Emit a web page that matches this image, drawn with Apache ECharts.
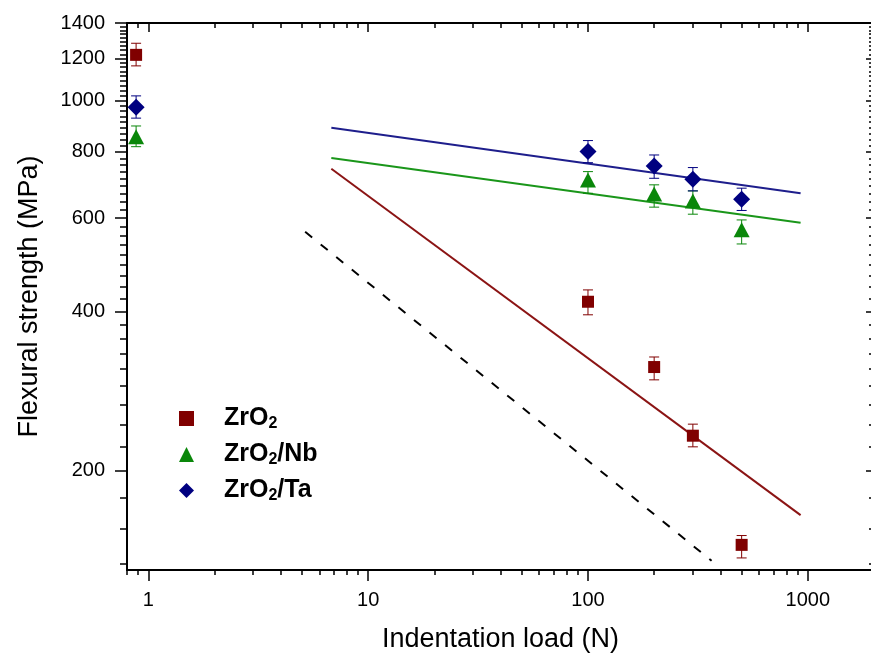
<!DOCTYPE html>
<html>
<head>
<meta charset="utf-8">
<script src="https://cdn.jsdelivr.net/npm/echarts@6/dist/echarts.min.js"></script>
<style>
html,body{margin:0;padding:0;background:#fff;}
#c{width:871px;height:654px;}
</style>
</head>
<body>
<div id="c"></div>
<script>
// ---- data ----
const loads = [0.88, 100, 200, 300, 500];
const zro2 = [1219, 417, 314, 233, 145];
const zro2Lo = [1162, 394, 297, 222, 137];
const zro2Hi = [1282, 439, 328, 245, 151];
const zro2Nb = [854, 708, 666, 646, 570];
const zro2NbLo = [818, 668, 629, 610, 536];
const zro2NbHi = [895, 734, 693, 675, 595];
const zro2Ta = [971, 801, 752, 710, 651];
const zro2TaLo = [926, 763, 713, 675, 620];
const zro2TaHi = [1020, 840, 789, 747, 683];
const fitX = [6.8, 927];
const fitTa = [888, 668];
const fitNb = [779, 588];
const fitZr = [743, 165];
const refX = [5.17, 365];
const refY = [565, 135.3];
const xMajor = [1, 10, 100, 1000];
const yMajor = [200, 400, 600, 800, 1000, 1200, 1400];
const seriesNames = ['ZrO2', 'ZrO2/Nb', 'ZrO2/Ta'];

// minor tick positions
const xMinor = [];
[0.1, 1, 10, 100, 1000].forEach(d => { for (let k = 2; k <= 9; k++) xMinor.push(d * k); });
xMinor.push(2000);
const yMinor = [];
for (let b = 0; b <= 1200; b += 200) {
  for (let k = 1; k <= 8; k++) yMinor.push(b + k * 200 / 9);
}

const colRed = '#800000', colGreen = '#0a870a', colBlue = '#000080';
const font = "Arial, 'Liberation Sans', Helvetica, sans-serif";

function zip(a, b) { return a.map((v, i) => [v, b[i]]); }
function errData(lo, hi) { return loads.map((x, i) => [x, lo[i], hi[i]]); }
function errSeries(name, lo, hi, color) {
  return {
    type: 'custom', name: name + ' err', xAxisIndex: 0, yAxisIndex: 0, z: 3,
    data: errData(lo, hi), encode: { x: 0, y: [1, 2] }, silent: true,
    renderItem: function (params, api) {
      const x = api.value(0), l = api.value(1), h = api.value(2);
      const p1 = api.coord([x, h]), p2 = api.coord([x, l]);
      const hw = 5;
      const st = { stroke: color, lineWidth: 1, fill: null };
      return { type: 'group', children: [
        { type: 'line', shape: { x1: p1[0], y1: p1[1], x2: p2[0], y2: p2[1] }, style: st },
        { type: 'line', shape: { x1: p1[0] - hw, y1: p1[1], x2: p1[0] + hw, y2: p1[1] }, style: st },
        { type: 'line', shape: { x1: p2[0] - hw, y1: p2[1], x2: p2[0] + hw, y2: p2[1] }, style: st }
      ] };
    }
  };
}
function lineSeries(xs, ys, color, dashed) {
  return {
    type: 'line', xAxisIndex: 0, yAxisIndex: 0, z: 2, silent: true,
    data: zip(xs, ys), showSymbol: false, symbol: 'none',
    lineStyle: { color: color, width: 2, type: dashed ? [9, 11] : 'solid' }
  };
}
const blackLine = { show: true, lineStyle: { color: '#000', width: 2 } };
const noLine = { show: false };
function xAx(pos, ticks, len, inside, withLine, labels) {
  return {
    type: 'log', position: pos, min: 0.8, max: 2000, logBase: 10,
    axisLine: withLine ? blackLine : noLine,
    axisTick: { show: true, customValues: ticks, length: len, inside: inside, lineStyle: { color: '#000', width: 1.5 } },
    axisLabel: labels ? { show: true, customValues: xMajor, fontSize: 20, color: '#000', fontFamily: font, margin: 20,
      formatter: v => String(Math.round(v)) } : { show: false },
    splitLine: { show: false }, minorTick: { show: false }, minorSplitLine: { show: false }
  };
}
function yAx(pos, ticks, len, inside, withLine, labels) {
  return {
    type: 'log', position: pos, min: 130, max: 1400, logBase: 10,
    axisLine: withLine ? blackLine : noLine,
    axisTick: { show: true, customValues: ticks, length: len, inside: inside, lineStyle: { color: '#000', width: 1.5 } },
    axisLabel: labels ? { show: true, customValues: yMajor, fontSize: 20, color: '#000', fontFamily: font, margin: 22,
      formatter: v => String(Math.round(v)) } : { show: false },
    splitLine: { show: false }, minorTick: { show: false }, minorSplitLine: { show: false }
  };
}
const xa0 = xAx('bottom', xMajor, 11, false, true, true);
xa0.name = 'Indentation load (N)';
xa0.nameLocation = 'middle';
xa0.nameGap = 56;
xa0.nameTextStyle = { fontSize: 27, color: '#000', fontFamily: font };
const ya0 = yAx('left', yMajor, 12, false, true, true);
ya0.name = 'Flexural strength (MPa)';
ya0.nameLocation = 'middle';
ya0.nameGap = 84;
ya0.nameTextStyle = { fontSize: 27, color: '#000', fontFamily: font };

const chart = echarts.init(document.getElementById('c'), null, { renderer: 'canvas' });
chart.setOption({
  animation: false,
  backgroundColor: '#fff',
  grid: { left: 127, right: -3, top: 23, bottom: 84, containLabel: false, outerBoundsMode: 'none' },
  xAxis: [
    xa0,
    xAx('bottom', xMinor, 5, false, false, false),
    xAx('top', xMajor, 9, true, true, false),
    xAx('top', xMinor, 5, true, false, false)
  ],
  yAxis: [
    ya0,
    yAx('left', yMinor, 7, false, false, false),
    yAx('right', yMajor, 8, true, false, false),
    yAx('right', yMinor, 5, true, false, false)
  ],
  legend: {
    show: true, orient: 'vertical', left: 174, top: 401, itemWidth: 15, itemHeight: 15, itemGap: 10,
    selectedMode: false,
    data: [
      { name: 'ZrO2', icon: 'rect', itemStyle: { color: colRed } },
      { name: 'ZrO2/Nb', icon: 'triangle', itemStyle: { color: colGreen } },
      { name: 'ZrO2/Ta', icon: 'diamond', itemStyle: { color: colBlue } }
    ],
    formatter: function (name) {
      const rest = name.slice(4);
      return '{a|ZrO}{s|2}' + (rest ? '{a|' + rest + '}' : '');
    },
    textStyle: {
      padding: [0, 0, 0, 25],
      rich: {
        a: { fontSize: 25, fontWeight: 'bold', color: '#000', fontFamily: font, lineHeight: 27 },
        s: { fontSize: 16, fontWeight: 'bold', color: '#000', fontFamily: font, lineHeight: 12, verticalAlign: 'bottom' }
      }
    }
  },
  series: [
    lineSeries(refX, refY, '#000', true),
    lineSeries(fitX, fitZr, '#8b1414', false),
    lineSeries(fitX, fitNb, '#1a961a', false),
    lineSeries(fitX, fitTa, '#1e1e8c', false),
    errSeries('ZrO2', zro2Lo, zro2Hi, colRed),
    errSeries('ZrO2/Nb', zro2NbLo, zro2NbHi, colGreen),
    errSeries('ZrO2/Ta', zro2TaLo, zro2TaHi, colBlue),
    { type: 'scatter', name: 'ZrO2', xAxisIndex: 0, yAxisIndex: 0, z: 4, symbol: 'rect', symbolSize: 12,
      itemStyle: { color: colRed, opacity: 1 }, data: zip(loads, zro2) },
    { type: 'scatter', name: 'ZrO2/Nb', xAxisIndex: 0, yAxisIndex: 0, z: 4, symbol: 'triangle', symbolSize: [16, 15],
      itemStyle: { color: colGreen, opacity: 1 }, data: zip(loads, zro2Nb) },
    { type: 'scatter', name: 'ZrO2/Ta', xAxisIndex: 0, yAxisIndex: 0, z: 4, symbol: 'diamond', symbolSize: [17, 17],
      itemStyle: { color: colBlue, opacity: 1 }, data: zip(loads, zro2Ta) }
  ]
});
</script>
</body>
</html>
